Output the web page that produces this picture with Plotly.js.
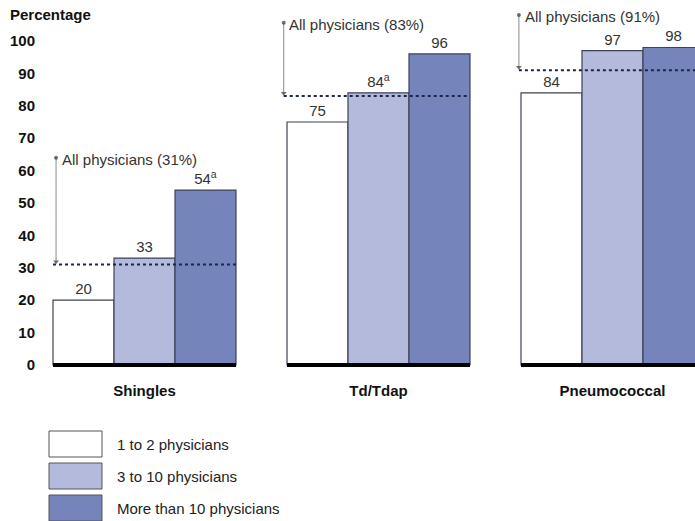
<!DOCTYPE html>
<html>
<head>
<meta charset="utf-8">
<script src="https://cdn.plot.ly/plotly-3.0.1.min.js"></script>
<style>html,body{margin:0;padding:0;background:#fff;}#chart{width:695px;height:521px;}</style>
</head>
<body>
<div id="chart"></div>
<script>
// ---- data ----
const categories = ['Shingles', 'Td/Tdap', 'Pneumococcal'];
const seriesNames = ['1 to 2 physicians', '3 to 10 physicians', 'More than 10 physicians'];
const oneToTwo = [20, 75, 84];
const threeToTen = [33, 84, 97];
const moreThanTen = [54, 96, 98];
const oneToTwoNote = ['', '', ''];
const threeToTenNote = ['', 'a', ''];
const moreThanTenNote = ['a', '', ''];
const allPhysicians = [31, 83, 91];
const yTicks = [0, 10, 20, 30, 40, 50, 60, 70, 80, 90, 100];

// ---- style / layout ----
const W = 695, H = 521;
const M = {l: 40, r: 0, t: 10, b: 151};
const colors = ['#ffffff', '#b4badb', '#7585bb'];
const FONT = 'Liberation Sans, Arial, Helvetica, sans-serif';
const BARGAP = 0.218;
const half = (1 - BARGAP) / 2;
const arrowOff = [-0.378, -0.405, -0.4];
const calloutTop = [64, 105.6, 108];

function pxX(px) { return (px - M.l) / (W - M.l - M.r); }
function pxY(py) { return (H - M.b - py) / (H - M.t - M.b); }

const xIdx = categories.map((c, i) => i);
const series = [oneToTwo, threeToTen, moreThanTen];
const notes = [oneToTwoNote, threeToTenNote, moreThanTenNote];

const traces = series.map((vals, s) => ({
  type: 'bar',
  name: seriesNames[s],
  x: xIdx,
  y: vals,
  text: vals.map((v, i) => String(v) + (notes[s][i] ? '<sup>' + notes[s][i] + '</sup>' : '')),
  textposition: 'outside',
  textfont: {family: FONT, size: 15, color: '#333'},
  marker: {color: colors[s], line: {color: '#3d4258', width: 1.2}},
  hoverinfo: 'skip',
  showlegend: false
}));

// dotted average lines
allPhysicians.forEach((v, i) => {
  traces.push({
    type: 'scatter', mode: 'lines',
    x: [i + Math.min(arrowOff[i], -half), i + half], y: [v, v],
    line: {color: '#1c2550', width: 2, dash: 'dot'},
    hoverinfo: 'skip', showlegend: false
  });
});

// callout arrows (dot at top, arrowhead at the average line)
allPhysicians.forEach((v, i) => {
  traces.push({
    type: 'scatter', mode: 'lines+markers',
    x: [i + arrowOff[i], i + arrowOff[i]], y: [calloutTop[i], v + 0.9],
    line: {color: '#8a8a8a', width: 1},
    marker: {symbol: ['circle', 'triangle-down'], size: [4, 5], color: '#333', line: {width: 0}},
    hoverinfo: 'skip', showlegend: false, cliponaxis: false
  });
});

const shapes = [];
const annotations = [];

// thick baselines under each group
xIdx.forEach(i => {
  shapes.push({type: 'line', xref: 'x', yref: 'y', x0: i - half, x1: i + half, y0: 0, y1: 0,
    line: {color: '#000', width: 4}, layer: 'above'});
});

// callout texts
allPhysicians.forEach((v, i) => {
  annotations.push({
    xref: 'x', yref: 'y', x: i + arrowOff[i] + 0.016, y: calloutTop[i] - 0.5,
    xanchor: 'left', yanchor: 'middle', showarrow: false,
    text: 'All physicians (' + v + '%)',
    font: {family: FONT, size: 15, color: '#333'}
  });
});

// y-axis title
annotations.push({
  xref: 'paper', yref: 'paper', x: pxX(8), y: pxY(15), xanchor: 'left', yanchor: 'middle',
  showarrow: false, text: '<b>Percentage</b>', font: {family: FONT, size: 15, color: '#111'}
});

// legend
seriesNames.forEach((n, s) => {
  const top = 431 + s * 32;
  shapes.push({type: 'rect', xref: 'paper', yref: 'paper',
    x0: pxX(49), x1: pxX(102), y0: pxY(top), y1: pxY(top + 26),
    fillcolor: colors[s], line: {color: '#555', width: 1}});
  annotations.push({
    xref: 'paper', yref: 'paper', x: pxX(115), y: pxY(top + 13), xanchor: 'left', yanchor: 'middle',
    showarrow: false, text: n, font: {family: FONT, size: 15, color: '#222'}
  });
});

const layout = {
  width: W, height: H,
  margin: M,
  paper_bgcolor: '#fff', plot_bgcolor: '#fff',
  barmode: 'group', bargap: BARGAP, bargroupgap: 0,
  showlegend: false,
  font: {family: FONT, size: 15, color: '#222'},
  xaxis: {
    range: [(M.l - 144.5) / 234, (W - 144.5) / 234],
    tickvals: xIdx, ticktext: categories.map(c => '<b>' + c + '</b>'),
    tickfont: {family: FONT, size: 15, color: '#111'},
    showgrid: false, zeroline: false, showline: false, ticks: '',
    ticklabelstandoff: 10, fixedrange: true
  },
  yaxis: {
    range: [-5 / 3.24, (H - M.b - M.t - 5) / 3.24],
    tickvals: yTicks, ticktext: yTicks.map(t => '<b>' + t + '</b>'),
    tickfont: {family: FONT, size: 15, color: '#111'},
    showgrid: false, zeroline: false, showline: false, ticks: '',
    ticklabelstandoff: 4, fixedrange: true
  },
  shapes: shapes,
  annotations: annotations
};

Plotly.newPlot('chart', traces, layout, {displayModeBar: false, staticPlot: true});
</script>
</body>
</html>
